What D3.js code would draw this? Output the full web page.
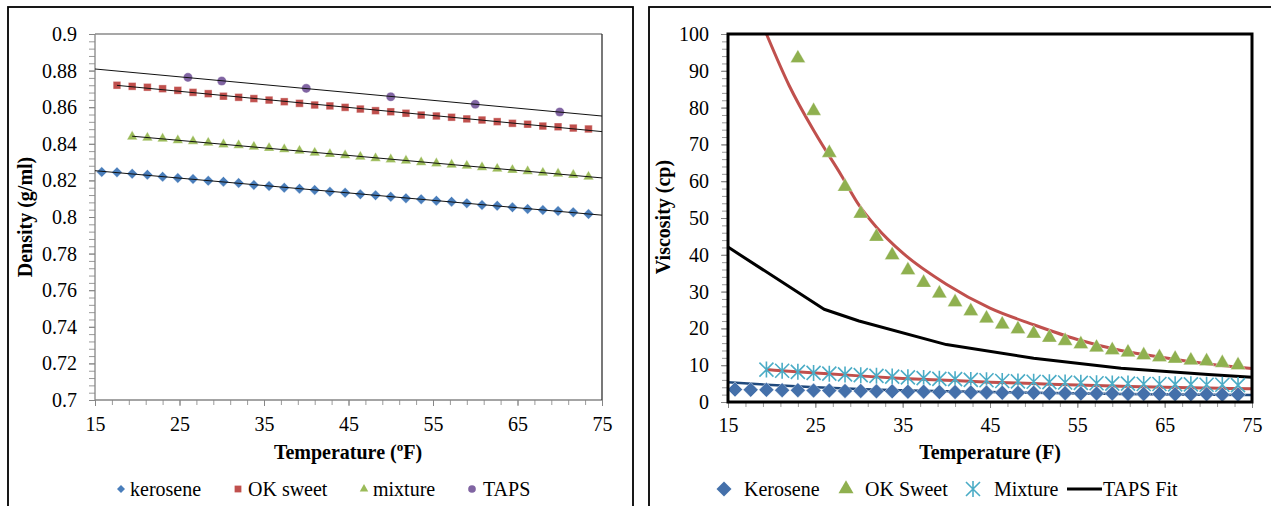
<!DOCTYPE html>
<html>
<head>
<meta charset="utf-8">
<script src="https://cdn.jsdelivr.net/npm/d3@7.9.0/dist/d3.min.js"></script>
<style>
  body { margin: 0; background: #fff; }
  svg { display: block; }
  svg text { font-family: "Liberation Serif", "Times New Roman", serif !important; }
</style>
</head>
<body>
<svg id="chart" width="1271" height="506"></svg>
<script>
// temperatures in F (1 C steps)
const temps = [15.8, 17.6, 19.4, 21.2, 23, 24.8, 26.6, 28.4, 30.2, 32, 33.8, 35.6, 37.4, 39.2, 41, 42.8,
  44.6, 46.4, 48.2, 50, 51.8, 53.6, 55.4, 57.2, 59, 60.8, 62.6, 64.4, 66.2, 68, 69.8, 71.6, 73.4];

// ---- left chart: density (g/ml)
const keroDensity = [0.8246, 0.8244, 0.8237, 0.8231, 0.8220, 0.8213, 0.8208, 0.8198, 0.8193, 0.8186, 0.8175,
  0.8169, 0.8160, 0.8155, 0.8148, 0.8138, 0.8133, 0.8124, 0.8119, 0.8111, 0.8102, 0.8097, 0.8089, 0.8084,
  0.8075, 0.8066, 0.8062, 0.8053, 0.8044, 0.8038, 0.8033, 0.8026, 0.8016];
const okDensity = [0.8720, 0.8714, 0.8709, 0.8701, 0.8692, 0.8681, 0.8674, 0.8660, 0.8654, 0.8647, 0.8639,
  0.8630, 0.8621, 0.8612, 0.8607, 0.8599, 0.8590, 0.8581, 0.8575, 0.8567, 0.8557, 0.8552, 0.8545, 0.8536,
  0.8530, 0.8521, 0.8512, 0.8507, 0.8497, 0.8493, 0.8486, 0.8481];
const mixDensity = [0.8439, 0.8433, 0.8428, 0.8419, 0.8414, 0.8406, 0.8397, 0.8392, 0.8384, 0.8377, 0.8370,
  0.8362, 0.8351, 0.8344, 0.8337, 0.8329, 0.8321, 0.8315, 0.8308, 0.8299, 0.8293, 0.8286, 0.8280, 0.8272,
  0.8264, 0.8257, 0.8250, 0.8242, 0.8237, 0.8230, 0.8220];
const tapsTemps = [26, 30, 40, 50, 60, 70];
const tapsDensity = [0.8763, 0.8743, 0.8703, 0.8657, 0.8616, 0.8574];
const densityTicks = [0.7, 0.72, 0.74, 0.76, 0.78, 0.8, 0.82, 0.84, 0.86, 0.88, 0.9];
const tempTicks = [15, 25, 35, 45, 55, 65, 75];

// ---- right chart: viscosity (cp)
const keroVisc = [3.4, 3.3, 3.3, 3.2, 3.2, 3.1, 3.1, 3.0, 3.0, 2.9, 2.9, 2.8, 2.8, 2.7, 2.7, 2.6, 2.6, 2.5,
  2.5, 2.5, 2.4, 2.4, 2.3, 2.3, 2.3, 2.2, 2.2, 2.2, 2.1, 2.1, 2.1, 2.0, 2.0];
const okVisc = [93.4, 79.1, 67.7, 58.5, 51.2, 44.9, 39.9, 35.8, 32.4, 29.5, 27.1, 24.7, 22.7, 21.1, 19.8,
  18.6, 17.5, 16.6, 15.7, 14.8, 14.1, 13.5, 12.7, 12.2, 11.8, 11.3, 11.1, 10.6, 10.0];
const mixVisc = [8.8, 8.5, 8.2, 7.9, 7.7, 7.5, 7.3, 7.1, 6.9, 6.7, 6.5, 6.3, 6.2, 6.0, 5.9, 5.7, 5.6, 5.5,
  5.4, 5.3, 5.2, 5.1, 5.0, 5.0, 4.9, 4.9, 4.8, 4.8, 4.7, 4.7, 4.6];
// fit curves
const okFitT = [19.4, 22, 25, 28, 30, 32, 35, 40, 45, 50, 55, 60, 65, 70, 75];
const okFitV = [100, 86, 73, 61.5, 53.5, 47.5, 40.5, 32, 25.5, 21, 17, 14, 12, 10.3, 9.1];
const mixFitT = [19.4, 25, 30, 35, 40, 45, 50, 55, 60, 65, 70, 75];
const mixFitV = [8.8, 7.9, 7.1, 6.4, 5.9, 5.4, 5.0, 4.6, 4.3, 4.0, 3.8, 3.6];
const keroFitT = [15, 20, 25, 30, 40, 50, 60, 75];
const keroFitV = [5.4, 4.6, 4.0, 3.5, 2.9, 2.5, 2.2, 1.9];
const tapsFitT = [15, 26, 30, 40, 50, 60, 70, 75];
const tapsFitV = [42.1, 25.2, 22, 15.6, 11.9, 9.2, 7.5, 6.7];
const viscTicks = [0, 10, 20, 30, 40, 50, 60, 70, 80, 90, 100];

const svg = d3.select('#chart');

// panel frames
svg.append('rect').attr('x', 8).attr('y', 7).attr('width', 625).attr('height', 520)
  .attr('fill', 'none').attr('stroke', '#000').attr('stroke-width', 1.8);
svg.append('rect').attr('x', 649).attr('y', 7).attr('width', 640).attr('height', 520)
  .attr('fill', 'none').attr('stroke', '#000').attr('stroke-width', 1.8);

// helpers
function linFit(xs, ys) {
  let mx = d3.mean(xs), my = d3.mean(ys);
  let sxy = d3.sum(xs, (x, i) => (x - mx) * (ys[i] - my));
  let sxx = d3.sum(xs, (x) => (x - mx) * (x - mx));
  let b = sxy / sxx;
  return { b, a: my - b * mx };
}
function styleAxis(g, color) {
  g.select('.domain').remove();
  g.attr('font-family', null);
  g.selectAll('.tick line').attr('stroke', color);
  g.selectAll('.tick text').attr('font-size', 20).attr('fill', '#000');
}
const diamond = (w) => d3.symbol(d3.symbolSquare, w * w / 2)();
const triangle = (w) => d3.symbol(d3.symbolTriangle, Math.sqrt(3) / 4 * w * w)();
const star = (r) => `M${-r},${-r}L${r},${r}M${-r},${r}L${r},${-r}M0,${-r - 1}V${r + 1}`;

// ================= LEFT CHART =================
const xL = d3.scaleLinear().domain([15, 75]).range([95, 602]);
const yL = d3.scaleLinear().domain([0.7, 0.9]).range([400, 34]);
const left = svg.append('g');

// minor ticks
left.append('g').attr('transform', 'translate(95,0)')
  .call(d3.axisLeft(yL).tickValues(d3.range(0.7, 0.9001, 0.004)).tickSize(6).tickFormat(''))
  .call(g => styleAxis(g, '#9a9a9a'));
left.append('g').attr('transform', 'translate(0,400)')
  .call(d3.axisBottom(xL).tickValues(d3.range(15, 75.01, 2)).tickSize(5).tickFormat(''))
  .call(g => styleAxis(g, '#9a9a9a'));
left.append('g').attr('transform', 'translate(95,0)')
  .call(d3.axisLeft(yL).tickValues(densityTicks).tickSize(6).tickPadding(12).tickFormat(d3.format('')))
  .call(g => styleAxis(g, '#868686'));
left.append('g').attr('transform', 'translate(0,400)')
  .call(d3.axisBottom(xL).tickValues(tempTicks).tickSize(6).tickPadding(11).tickFormat(d3.format('')))
  .call(g => styleAxis(g, '#868686'));

// plot border
left.append('line').attr('x1', 95).attr('x2', 602).attr('y1', 34).attr('y2', 34).attr('stroke', '#8a8a8a').attr('stroke-width', 1.3);
left.append('line').attr('x1', 95).attr('x2', 95).attr('y1', 34).attr('y2', 400).attr('stroke', '#868686').attr('stroke-width', 1.3);
left.append('line').attr('x1', 95).attr('x2', 602).attr('y1', 400).attr('y2', 400).attr('stroke', '#868686').attr('stroke-width', 1.3);
left.append('line').attr('x1', 602).attr('x2', 602).attr('y1', 34).attr('y2', 400).attr('stroke', '#303030').attr('stroke-width', 1.3);

const densSeries = [
  { name: 'kerosene', t: temps, v: keroDensity, color: '#4A7EBB', shape: 'diamond', from: 15 },
  { name: 'OK sweet', t: temps.slice(1), v: okDensity, color: '#C0504D', shape: 'square', from: 17.6 },
  { name: 'mixture', t: temps.slice(2), v: mixDensity, color: '#9BBB59', shape: 'triangle', from: 19.4 },
  { name: 'TAPS', t: tapsTemps, v: tapsDensity, color: '#8064A2', shape: 'circle', from: 15 },
];
const leftSymbol = {
  diamond: diamond(10.5),
  square: d3.symbol(d3.symbolSquare, 58)(),
  triangle: triangle(10.5),
  circle: d3.symbol(d3.symbolCircle, 66)(),
};

densSeries.forEach((s) => {
  let g = left.append('g');
  g.selectAll('path').data(s.t).join('path')
    .attr('d', leftSymbol[s.shape])
    .attr('transform', (t, i) => `translate(${xL(t)},${yL(s.v[i])})${s.shape === 'diamond' ? ' rotate(45)' : ''}`)
    .attr('fill', s.color).attr('stroke', '#fff').attr('stroke-opacity', 0.45).attr('stroke-width', 0.8);
});
// linear trendlines on top
densSeries.forEach((s) => {
  let f = linFit(s.t, s.v);
  left.append('line')
    .attr('x1', xL(s.from)).attr('y1', yL(f.a + f.b * s.from))
    .attr('x2', xL(75)).attr('y2', yL(f.a + f.b * 75))
    .attr('stroke', '#111').attr('stroke-width', 1);
});

// titles
left.append('text').attr('x', 348).attr('y', 459).attr('text-anchor', 'middle')
  .attr('font-size', 20).attr('font-weight', 'bold')
  .html('Temperature (<tspan font-size="13" dy="-8">o</tspan><tspan dy="8">F)</tspan>');
left.append('text').attr('transform', 'translate(32,217) rotate(-90)').attr('text-anchor', 'middle')
  .attr('font-size', 20).attr('font-weight', 'bold').text('Density (g/ml)');

// legend
const legL = [
  { mx: 121, tx: 130 }, { mx: 238, tx: 248 }, { mx: 364, tx: 373 }, { mx: 472, tx: 483 },
];
densSeries.forEach((s, i) => {
  let sym = { diamond: diamond(8), square: d3.symbol(d3.symbolSquare, 46)(), triangle: triangle(8.5), circle: d3.symbol(d3.symbolCircle, 46)() }[s.shape];
  left.append('path').attr('d', sym)
    .attr('transform', `translate(${legL[i].mx},489)${s.shape === 'diamond' ? ' rotate(45)' : ''}`)
    .attr('fill', s.color);
  left.append('text').attr('x', legL[i].tx).attr('y', 496).attr('font-size', 20).text(s.name);
});

// ================= RIGHT CHART =================
const xR = d3.scaleLinear().domain([15, 75]).range([728, 1252]);
const yR = d3.scaleLinear().domain([0, 100]).range([402, 34]);
const right = svg.append('g');

right.append('g').attr('transform', 'translate(728,0)')
  .call(d3.axisLeft(yR).tickValues(d3.range(0, 100.01, 2)).tickSize(6).tickFormat(''))
  .call(g => styleAxis(g, '#9a9a9a'));
right.append('g').attr('transform', 'translate(0,402)')
  .call(d3.axisBottom(xR).tickValues(d3.range(15, 75.01, 2)).tickSize(5).tickFormat(''))
  .call(g => styleAxis(g, '#9a9a9a'));
right.append('g').attr('transform', 'translate(728,0)')
  .call(d3.axisLeft(yR).tickValues(viscTicks).tickSize(7).tickPadding(12).tickFormat(d3.format('')))
  .call(g => styleAxis(g, '#868686'));
right.append('g').attr('transform', 'translate(0,402)')
  .call(d3.axisBottom(xR).tickValues(tempTicks).tickSize(6).tickPadding(10).tickFormat(d3.format('')))
  .call(g => styleAxis(g, '#868686'));

right.append('clipPath').attr('id', 'clipR')
  .append('rect').attr('x', 728).attr('y', 34).attr('width', 524).attr('height', 368);
const plotR = right.append('g').attr('clip-path', 'url(#clipR)');

const lineR = (curve) => d3.line().x((d) => xR(d[0])).y((d) => yR(d[1])).curve(curve);
const fits = [
  { t: tapsFitT, v: tapsFitV, color: '#000', w: 3, curve: d3.curveLinear },
  { t: okFitT, v: okFitV, color: '#C0504D', w: 3, curve: d3.curveMonotoneX },
  { t: mixFitT, v: mixFitV, color: '#C0504D', w: 3, curve: d3.curveMonotoneX },
  { t: keroFitT, v: keroFitV, color: '#1F497D', w: 2.5, curve: d3.curveMonotoneX },
];
fits.forEach((f) => {
  plotR.append('path').datum(f.t.map((t, i) => [t, f.v[i]]))
    .attr('d', lineR(f.curve)).attr('fill', 'none')
    .attr('stroke', f.color).attr('stroke-width', f.w).attr('stroke-linejoin', 'round');
});

// markers
plotR.append('g').selectAll('path').data(temps.slice(4)).join('path')
  .attr('d', triangle(15))
  .attr('transform', (t, i) => `translate(${xR(t)},${yR(okVisc[i])})`)
  .attr('fill', '#8FB04F').attr('stroke', '#fff').attr('stroke-opacity', 0.4).attr('stroke-width', 0.8);
plotR.append('g').selectAll('path').data(temps.slice(2)).join('path')
  .attr('d', star(7))
  .attr('transform', (t, i) => `translate(${xR(t)},${yR(mixVisc[i])})`)
  .attr('fill', 'none').attr('stroke', '#4BACC6').attr('stroke-width', 1.6);
plotR.append('g').selectAll('path').data(temps).join('path')
  .attr('d', diamond(15))
  .attr('transform', (t, i) => `translate(${xR(t)},${yR(keroVisc[i])}) rotate(45)`)
  .attr('fill', '#4470AA').attr('stroke', '#fff').attr('stroke-opacity', 0.5).attr('stroke-width', 0.8);

// plot frame
right.append('rect').attr('x', 728).attr('y', 34).attr('width', 524).attr('height', 368)
  .attr('fill', 'none').attr('stroke', '#000').attr('stroke-width', 3);

right.append('text').attr('x', 990).attr('y', 459).attr('text-anchor', 'middle')
  .attr('font-size', 20).attr('font-weight', 'bold').text('Temperature (F)');
right.append('text').attr('transform', 'translate(670,217) rotate(-90)').attr('text-anchor', 'middle')
  .attr('font-size', 20).attr('font-weight', 'bold').text('Viscosity (cp)');

// legend
const legR = right.append('g');
legR.append('path').attr('d', diamond(15)).attr('transform', 'translate(724,489) rotate(45)').attr('fill', '#4470AA');
legR.append('text').attr('x', 744).attr('y', 496).attr('font-size', 20).text('Kerosene');
legR.append('path').attr('d', triangle(15)).attr('transform', 'translate(846,489)').attr('fill', '#8FB04F');
legR.append('text').attr('x', 865).attr('y', 496).attr('font-size', 20).text('OK Sweet');
legR.append('path').attr('d', star(7)).attr('transform', 'translate(973,489)')
  .attr('fill', 'none').attr('stroke', '#4BACC6').attr('stroke-width', 1.6);
legR.append('text').attr('x', 994).attr('y', 496).attr('font-size', 20).text('Mixture');
legR.append('line').attr('x1', 1067).attr('x2', 1102).attr('y1', 489).attr('y2', 489)
  .attr('stroke', '#000').attr('stroke-width', 3);
legR.append('text').attr('x', 1103).attr('y', 496).attr('font-size', 20).text('TAPS Fit');
</script>
</body>
</html>
